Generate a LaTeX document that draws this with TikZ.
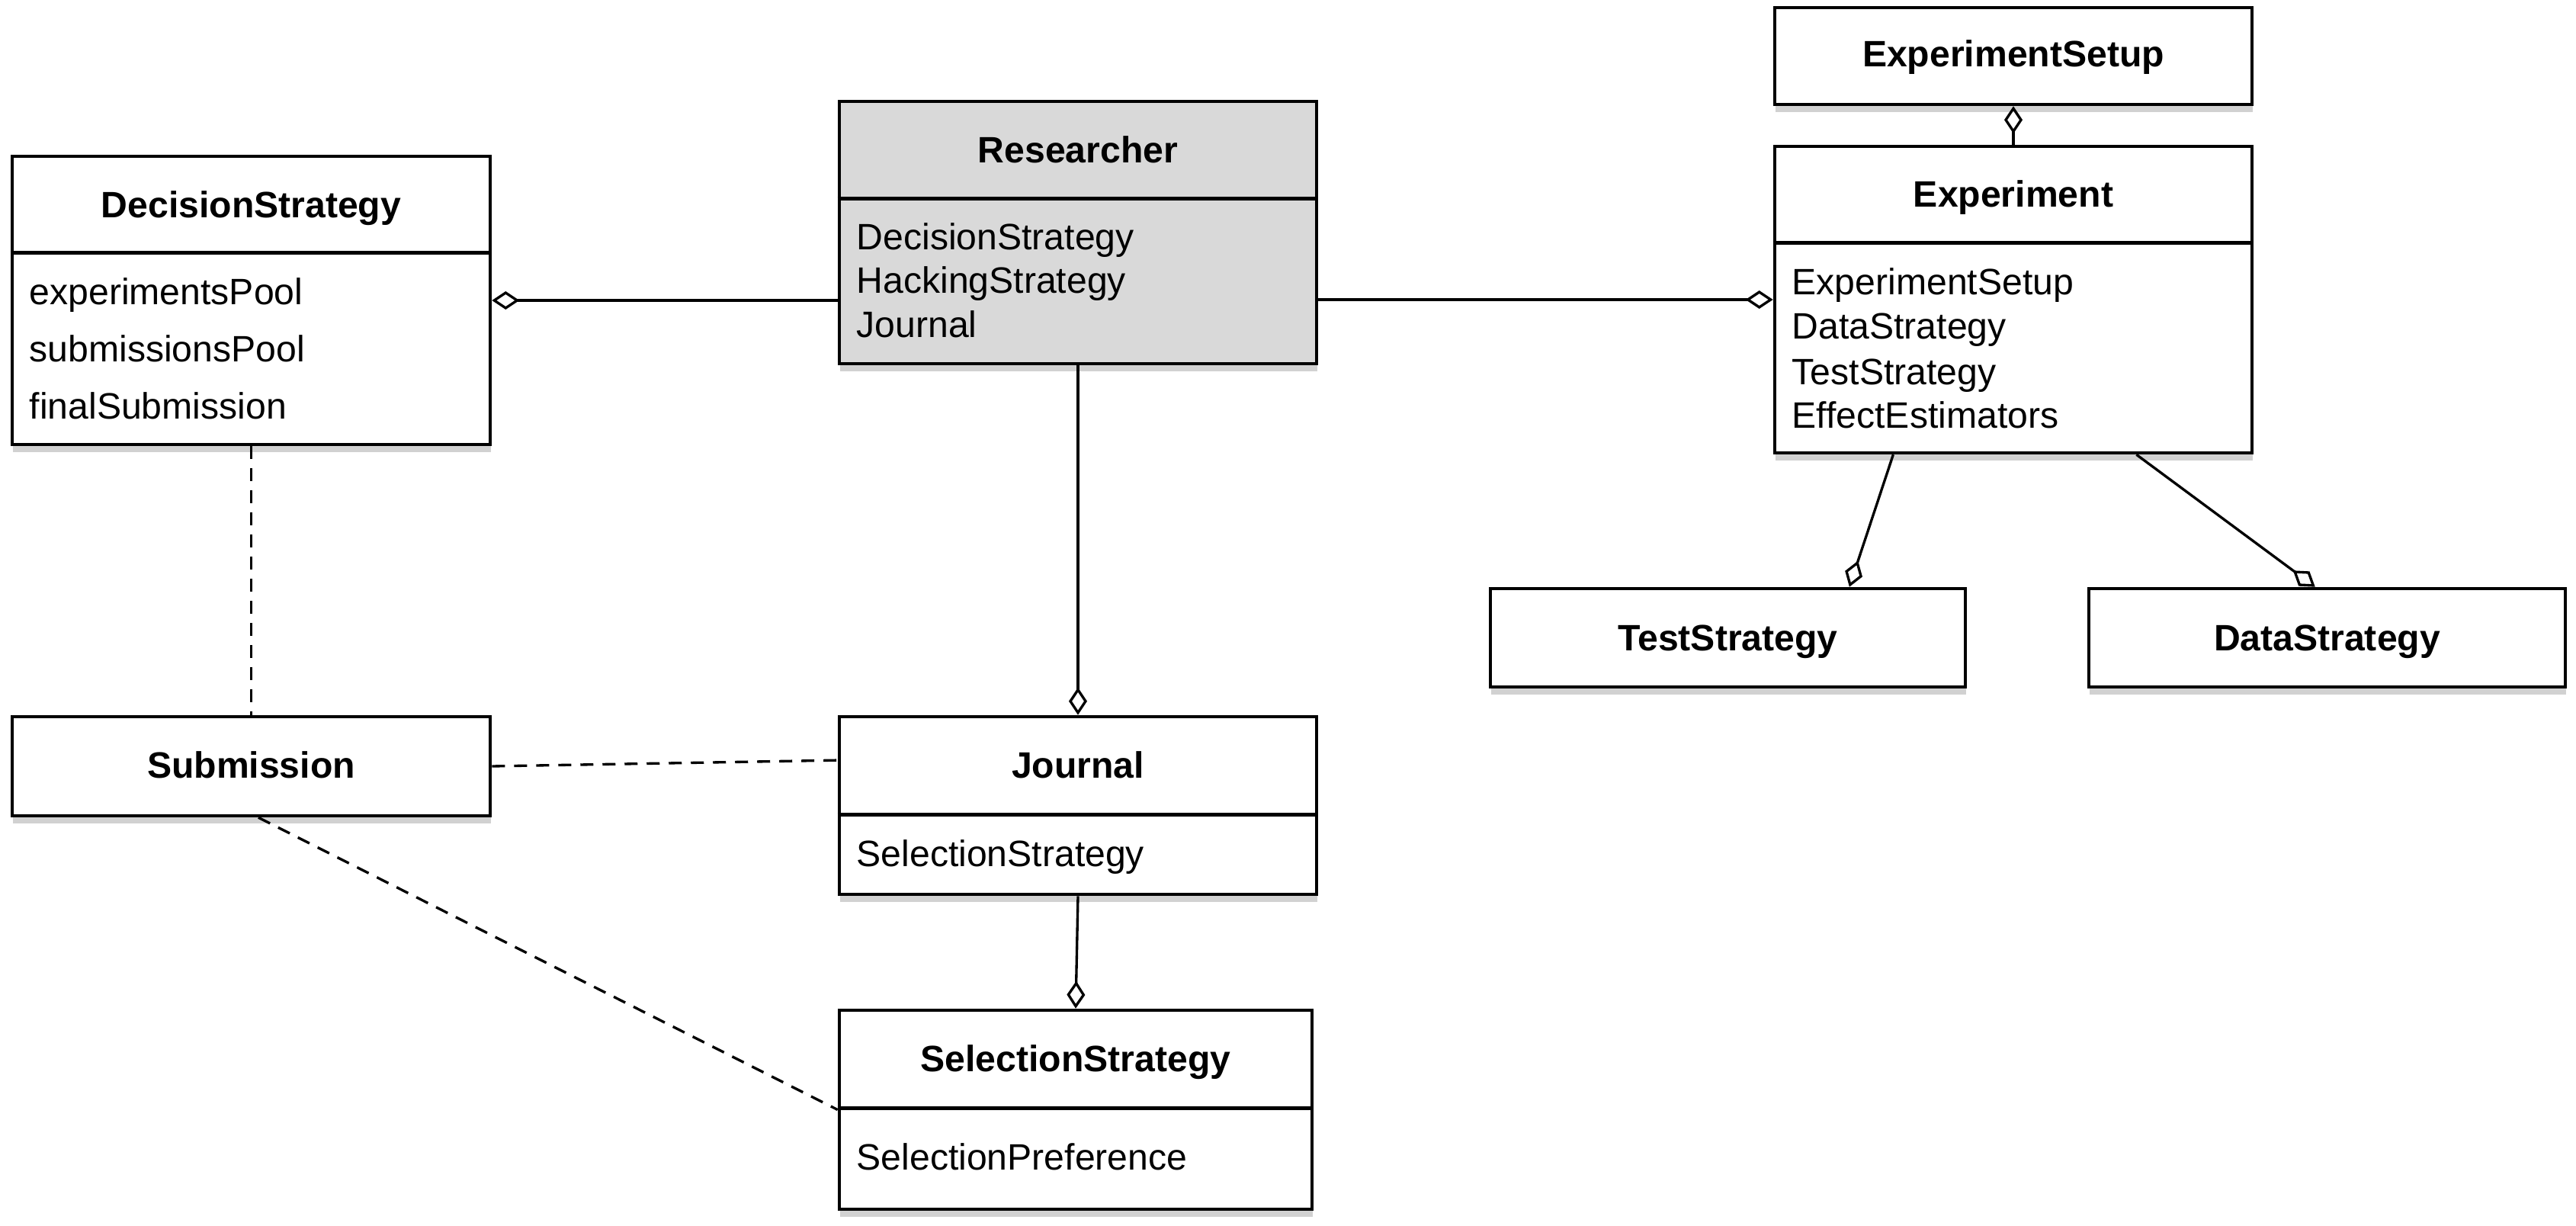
\documentclass[tikz,border=0pt]{standalone}
\usepackage{fontspec}
\setmainfont{Liberation Sans}
\usetikzlibrary{arrows.meta,shadows,calc}
\definecolor{resfill}{HTML}{D9D9D9}
\begin{document}
\begin{tikzpicture}[
  cls/.style={draw=black, line width=1.3pt, fill=white, inner sep=0pt,
    drop shadow={shadow xshift=0.01cm, shadow yshift=-0.1cm, opacity=0.3, fill=black!60}},
  hdr/.style={font=\fontsize{13.7}{16}\selectfont\bfseries, anchor=base, inner sep=0pt},
  attr/.style={font=\fontsize{13.7}{16}\selectfont, anchor=base west, inner sep=0pt},
  divl/.style={line width=1.3pt},
  agg/.style={line width=0.95pt, -{Diamond[open,length=0.36cm,width=0.24cm]}},
  dep/.style={line width=0.95pt, dash pattern=on 0.17cm off 0.12cm}
]
\useasboundingbox (0,0) rectangle (33.79,-16.08);

% boxes
\node[cls, minimum width=6.27cm, minimum height=3.78cm] (ds) at (3.295,-3.94) {};
\node[cls, fill=resfill, minimum width=6.26cm, minimum height=3.44cm] (res) at (14.14,-3.05) {};
\node[cls, minimum width=6.26cm, minimum height=1.27cm] (esu) at (26.41,-0.735) {};
\node[cls, minimum width=6.26cm, minimum height=4.02cm] (exp) at (26.41,-3.93) {};
\node[cls, minimum width=6.23cm, minimum height=1.29cm] (ts) at (22.665,-8.365) {};
\node[cls, minimum width=6.25cm, minimum height=1.29cm] (dst) at (30.525,-8.365) {};
\node[cls, minimum width=6.27cm, minimum height=1.30cm] (sub) at (3.295,-10.05) {};
\node[cls, minimum width=6.26cm, minimum height=2.33cm] (jou) at (14.14,-10.565) {};
\node[cls, minimum width=6.20cm, minimum height=2.61cm] (sel) at (14.11,-14.555) {};

% dividers
\draw[divl] ($(ds.north west)+(0,-1.29)$) -- ($(ds.north east)+(0,-1.29)$);
\draw[divl] ($(res.north west)+(0,-1.30)$) -- ($(res.north east)+(0,-1.30)$);
\draw[divl] ($(exp.north west)+(0,-1.29)$) -- ($(exp.north east)+(0,-1.29)$);
\draw[divl] ($(jou.north west)+(0,-1.31)$) -- ($(jou.north east)+(0,-1.31)$);
\draw[divl] ($(sel.north west)+(0,-1.31)$) -- ($(sel.north east)+(0,-1.31)$);

% texts
\node[hdr] (dsh) at (3.295,-2.85) {DecisionStrategy};
\node[attr] (dsa1) at (0.38,-4.00) {experimentsPool};
\node[attr] (dsa2) at (0.38,-4.75) {submissionsPool};
\node[attr] (dsa3) at (0.38,-5.50) {finalSubmission};

\node[hdr] (resh) at (14.14,-2.14) {Researcher};
\node[attr] (resa1) at (11.23,-3.28) {DecisionStrategy};
\node[attr] (resa2) at (11.23,-3.85) {HackingStrategy};
\node[attr] (resa3) at (11.23,-4.43) {Journal};

\node[hdr] (esuh) at (26.41,-0.88) {ExperimentSetup};

\node[hdr] (exph) at (26.41,-2.72) {Experiment};
\node[attr] (expa1) at (23.50,-3.87) {ExperimentSetup};
\node[attr] (expa2) at (23.50,-4.45) {DataStrategy};
\node[attr] (expa3) at (23.50,-5.04) {TestStrategy};
\node[attr] (expa4) at (23.50,-5.61) {EffectEstimators};

\node[hdr] (tsh) at (22.665,-8.53) {TestStrategy};
\node[hdr] (dsth) at (30.525,-8.53) {DataStrategy};

\node[hdr] (subh) at (3.295,-10.20) {Submission};

\node[hdr] (jouh) at (14.14,-10.20) {Journal};
\node[attr] (joua1) at (11.23,-11.36) {SelectionStrategy};

\node[hdr] (selh) at (14.11,-14.05) {SelectionStrategy};
\node[attr] (sela1) at (11.23,-15.34) {SelectionPreference};

% connectors
\draw[agg] (res.west |- ds.east) -- (ds.east);
\draw[agg] (res.east |- exp.west) -- (exp.west);
\draw[agg] (res.south) -- (jou.north);
\draw[agg] (exp.north) -- (esu.south);
\draw[agg] ($(exp.south west)!0.25!(exp.south east)$) -- ($(ts.north west)!0.754!(ts.north east)$);
\draw[agg] ($(exp.south west)!0.756!(exp.south east)$) -- ($(dst.north west)!0.475!(dst.north east)$);
\draw[agg] (jou.south) -- (sel.north);
\draw[dep] (ds.south) -- (sub.north);
\draw[dep] (sub.east) -- ($(jou.north west)!0.25!(jou.south west)$);
\draw[dep] ($(sub.south west)!0.515!(sub.south east)$) -- ($(sel.north west)!0.5!(sel.south west)$);
\end{tikzpicture}
\end{document}
